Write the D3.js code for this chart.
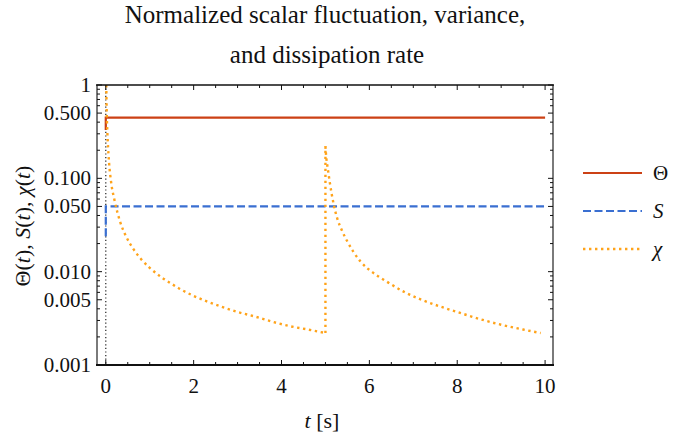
<!DOCTYPE html>
<html>
<head>
<meta charset="utf-8">
<script src="https://cdn.jsdelivr.net/npm/d3@7"></script>
<style>
  html, body { margin: 0; padding: 0; background: #fff; }
  svg text { font-family: "Liberation Serif", "Times New Roman", "DejaVu Serif", serif; }
</style>
</head>
<body>
<svg id="chart" width="697" height="440"></svg>
<script>
// Time axis and log-scale ticks
const xTicks = [0, 2, 4, 6, 8, 10];
const yTicks = [0.001, 0.005, 0.01, 0.05, 0.1, 0.5, 1];
const yTickLabels = ["0.001", "0.005", "0.010", "0.050", "0.100", "0.500", "1"];

// Normalized scalar fluctuation Θ(t)
const thetaT = [0, 0, 10];
const thetaV = [0.33, 0.447, 0.447];

// Normalized variance S(t)
const sT = [0, 0, 10];
const sV = [0.024, 0.05, 0.05];

// Dissipation rate χ(t): first decay, re-injection at t = 5, second decay
const chi1T = [0.011, 0.02, 0.03, 0.045, 0.075, 0.12, 0.2, 0.32, 0.45, 0.62, 0.8, 1.0, 1.27, 1.5, 1.72, 2.0, 2.3, 2.64, 3.0, 3.4, 3.8, 4.2, 4.6, 5.0];
const chi1V = [1.0, 0.55, 0.37, 0.25, 0.146, 0.092, 0.058, 0.035, 0.0245, 0.0177, 0.0137, 0.011, 0.0087, 0.0074, 0.0064, 0.0055, 0.0048, 0.0042, 0.0037, 0.0033, 0.0029, 0.0026, 0.0024, 0.0022];
const chiJumpT = [5.0, 5.0];
const chiJumpV = [0.0022, 0.22];
const chi2T = [5.0, 5.02, 5.04, 5.07, 5.1, 5.14, 5.19, 5.27, 5.37, 5.5, 5.63, 5.8, 6.09, 6.4, 6.81, 7.19, 7.57, 8.0, 8.52, 9.0, 9.5, 9.9];
const chi2V = [0.22, 0.165, 0.14, 0.112, 0.09, 0.069, 0.052, 0.037, 0.028, 0.021, 0.0165, 0.0128, 0.0097, 0.0078, 0.006, 0.005, 0.0043, 0.0037, 0.0031, 0.0027, 0.0024, 0.0022];

const legendLabels = ["Θ", "S", "χ"];
const colors = { theta: "#CC4115", s: "#3A6FD1", chi: "#FFA31A" };

const svg = d3.select("#chart");
const plot = { left: 97, right: 553, top: 85, bottom: 365 };

const x = d3.scaleLinear().domain([-0.2, 10.18]).range([plot.left, plot.right]);
const y = d3.scaleLog().domain([0.001, 1]).range([plot.bottom, plot.top]);

const zip = (ts, vs) => ts.map((t, i) => [t, vs[i]]);

// Title
const title = svg.append("text")
  .attr("text-anchor", "middle")
  .attr("font-size", 25)
  .attr("fill", "#111");
title.append("tspan").attr("x", 325).attr("y", 23).text("Normalized scalar fluctuation, variance,");
title.append("tspan").attr("x", 327).attr("y", 63).text("and dissipation rate");

// Clip region for the curves
svg.append("defs").append("clipPath").attr("id", "clip")
  .append("rect")
  .attr("x", plot.left).attr("y", plot.top)
  .attr("width", plot.right - plot.left).attr("height", plot.bottom - plot.top);

// Dotted t = 0 axis
svg.append("line")
  .attr("x1", x(0)).attr("x2", x(0))
  .attr("y1", plot.top).attr("y2", plot.bottom)
  .attr("stroke", "#222").attr("stroke-width", 1.2)
  .attr("stroke-dasharray", "1.2 2.4");

const g = svg.append("g").attr("clip-path", "url(#clip)");
const lineLin = d3.line().x(d => x(d[0])).y(d => y(d[1])).curve(d3.curveLinear);
const lineSmooth = d3.line().x(d => x(d[0])).y(d => y(d[1])).curve(d3.curveMonotoneX);

// Θ
g.append("path").attr("d", lineLin(zip(thetaT, thetaV)))
  .attr("fill", "none").attr("stroke", colors.theta).attr("stroke-width", 2.2);
// S
g.append("path").attr("d", lineLin(zip(sT, sV)))
  .attr("fill", "none").attr("stroke", colors.s).attr("stroke-width", 2.2)
  .attr("stroke-dasharray", "8 3.5");
// χ
const chiStyle = p => p.attr("fill", "none").attr("stroke", colors.chi)
  .attr("stroke-width", 2.4).attr("stroke-dasharray", "2.4 3.6");
g.append("path").attr("d", lineSmooth(zip(chi1T, chi1V))).call(chiStyle);
g.append("path").attr("d", lineLin(zip(chiJumpT, chiJumpV))).call(chiStyle);
g.append("path").attr("d", lineSmooth(zip(chi2T, chi2V))).call(chiStyle);

// Frame
const frame = svg.append("g");
frame.append("line").attr("x1", plot.left).attr("x2", plot.left).attr("y1", plot.top).attr("y2", plot.bottom + 1)
  .attr("stroke", "#7a7a7a").attr("stroke-width", 2);
frame.append("line").attr("x1", plot.right).attr("x2", plot.right).attr("y1", plot.top).attr("y2", plot.bottom + 1)
  .attr("stroke", "#7a7a7a").attr("stroke-width", 2);
frame.append("line").attr("x1", plot.left - 1).attr("x2", plot.right + 1).attr("y1", plot.top).attr("y2", plot.top)
  .attr("stroke", "#111").attr("stroke-width", 1.5);
frame.append("line").attr("x1", plot.left - 1).attr("x2", plot.right + 1).attr("y1", plot.bottom).attr("y2", plot.bottom)
  .attr("stroke", "#111").attr("stroke-width", 1.8);

// X ticks (major every 2, minor every 0.5), inward on bottom and top
const xMinor = d3.range(0, 10.01, 0.5).filter(v => !xTicks.includes(v));
const tickG = svg.append("g").attr("stroke", "#111").attr("stroke-width", 1);
xTicks.forEach(v => {
  tickG.append("line").attr("x1", x(v)).attr("x2", x(v)).attr("y1", plot.bottom).attr("y2", plot.bottom - 5);
  tickG.append("line").attr("x1", x(v)).attr("x2", x(v)).attr("y1", plot.top).attr("y2", plot.top + 5);
});
xMinor.forEach(v => {
  tickG.append("line").attr("x1", x(v)).attr("x2", x(v)).attr("y1", plot.bottom).attr("y2", plot.bottom - 3);
  tickG.append("line").attr("x1", x(v)).attr("x2", x(v)).attr("y1", plot.top).attr("y2", plot.top + 3);
});

// Y ticks: labelled majors, minors at 2..9 of each decade
const yMinor = [];
[0.001, 0.01, 0.1].forEach(d => {
  for (let k = 2; k <= 9; k++) if (k !== 5) yMinor.push(d * k);
});
yTicks.forEach(v => {
  tickG.append("line").attr("x1", plot.left).attr("x2", plot.left + 5).attr("y1", y(v)).attr("y2", y(v));
  tickG.append("line").attr("x1", plot.right).attr("x2", plot.right - 5).attr("y1", y(v)).attr("y2", y(v));
});
yMinor.forEach(v => {
  tickG.append("line").attr("x1", plot.left).attr("x2", plot.left + 3).attr("y1", y(v)).attr("y2", y(v));
  tickG.append("line").attr("x1", plot.right).attr("x2", plot.right - 3).attr("y1", y(v)).attr("y2", y(v));
});

// Tick labels
svg.append("g").selectAll("text").data(xTicks).join("text")
  .attr("x", d => x(d)).attr("y", 393)
  .attr("text-anchor", "middle").attr("font-size", 21).attr("fill", "#111")
  .text(d => d);
svg.append("g").selectAll("text").data(yTicks).join("text")
  .attr("x", 91).attr("y", d => y(d) + 7)
  .attr("text-anchor", "end").attr("font-size", 21).attr("fill", "#111")
  .text((d, i) => yTickLabels[i]);

// Axis titles
const xl = svg.append("text").attr("x", 322).attr("y", 428)
  .attr("text-anchor", "middle").attr("font-size", 22).attr("fill", "#111");
xl.append("tspan").attr("font-style", "italic").text("t");
xl.append("tspan").text(" [s]");

const yl = svg.append("text")
  .attr("transform", `translate(30,${(plot.top + plot.bottom) / 2 + 1}) rotate(-90)`)
  .attr("text-anchor", "middle").attr("font-size", 22).attr("fill", "#111");
[["Θ(", false], ["t", true], ["), ", false], ["S", true], ["(", false], ["t", true], ["), ", false], ["χ", true], ["(", false], ["t", true], [")", false]]
  .forEach(([s, it]) => yl.append("tspan").attr("font-style", it ? "italic" : "normal").text(s));

// Legend
const legendRows = [
  { label: legendLabels[0], color: colors.theta, dash: null, width: 2.2, italic: false, y: 173 },
  { label: legendLabels[1], color: colors.s, dash: "8 3.5", width: 2.2, italic: true, y: 211 },
  { label: legendLabels[2], color: colors.chi, dash: "2.4 3.6", width: 2.4, italic: true, y: 249 }
];
const lg = svg.append("g");
legendRows.forEach(r => {
  lg.append("line").attr("x1", 583).attr("x2", 642).attr("y1", r.y).attr("y2", r.y)
    .attr("stroke", r.color).attr("stroke-width", r.width)
    .attr("stroke-dasharray", r.dash);
  lg.append("text").attr("x", 653).attr("y", r.y + 7)
    .attr("font-size", 21).attr("fill", "#111")
    .attr("font-style", r.italic ? "italic" : "normal")
    .text(r.label);
});
</script>
</body>
</html>
